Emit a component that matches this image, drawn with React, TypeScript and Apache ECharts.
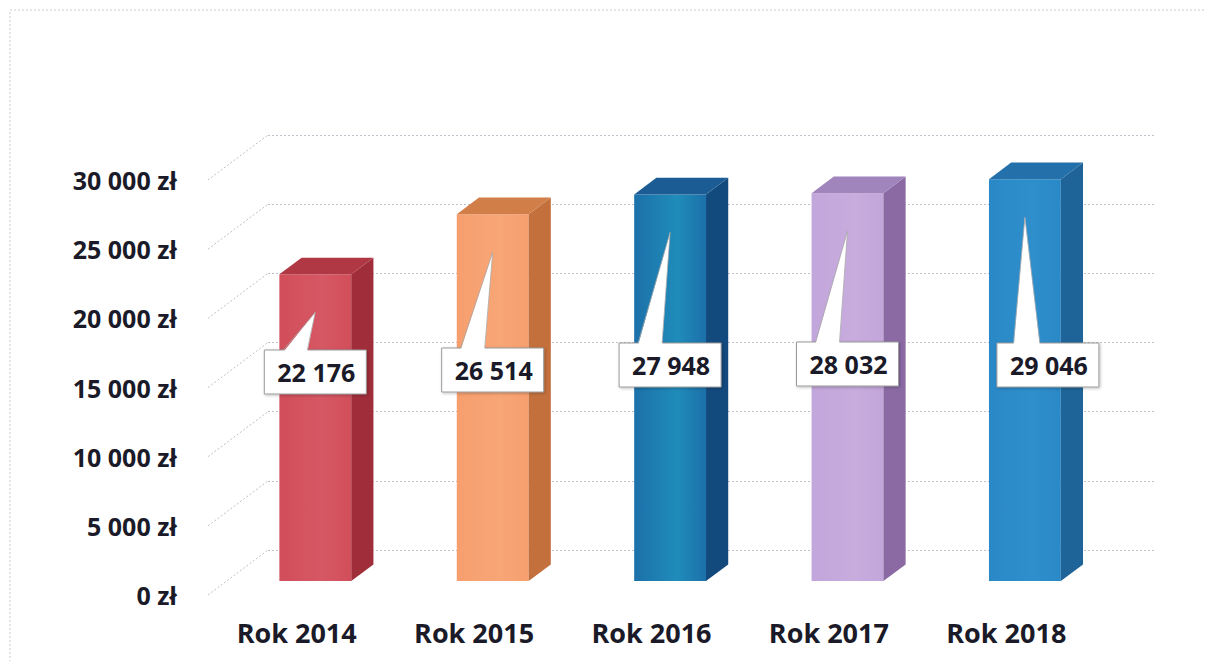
import React, { useEffect, useRef } from "react";
import * as echarts from "echarts";

const categories = ["Rok 2014", "Rok 2015", "Rok 2016", "Rok 2017", "Rok 2018"];
const values = [22176, 26514, 27948, 28032, 29046];
const yTicks = [0, 5000, 10000, 15000, 20000, 25000, 30000];
const Y_MIN = 0;
const Y_MAX = 30000;
const Y_INTERVAL = 5000;

// styling / layout constants
const FRONT_COLORS = ["#D14E5A", "#F69E6E", "#1C70A9", "#C2A5DA", "#2A88C7"];
const FRONT_MID = ["#D65864", "#F8A676", "#1F8CBA", "#C8ACDE", "#2E8FCC"];
const SIDE_COLORS = ["#A02E3A", "#C4703D", "#134A7E", "#8B6AA4", "#1E6498"];
const TOP_COLORS = ["#B03845", "#D27E48", "#1A5C93", "#A084BC", "#2470AB"];
const CALLOUT_SHIFT = [0, 0, 0, 0, 23];
const CALLOUT_CY = [372, 370, 365, 364, 365];

const DX = 60; // depth offset of the 3D floor/walls
const DY = -45;
const F1 = 0.31; // bar front depth fraction
const F2 = 0.68; // bar back depth fraction
const BAR_RATIO = 0.405;
const TEXT = "#1A1A28";
const FONT = "'Open Sans', 'Noto Sans', sans-serif";

const fmt = (v: number) => String(v).replace(/\B(?=(\d{3})+(?!\d))/g, " ");

export default function App() {
  const ref = useRef<HTMLDivElement>(null);
  useEffect(() => {
    if (!ref.current) return;
    const chart = echarts.init(ref.current, undefined, { renderer: "svg" });
    const option: any = {
      animation: false,
      backgroundColor: "#ffffff",
      graphic: [
        {
          type: "rect",
          shape: { x: 10, y: 10, width: 1260, height: 720 },
          style: { fill: "none", stroke: "#cccccc", lineWidth: 1, lineDash: [2, 2] },
          silent: true,
        },
      ],
      grid: [
        { left: 208, right: 111, top: 180, bottom: 66 },
        { left: 208 + DX, right: 111 - DX, top: 180 + DY, bottom: 66 - DY },
      ],
      xAxis: [
        {
          type: "category",
          gridIndex: 0,
          data: categories,
          axisLine: { show: false },
          axisTick: { show: false },
          axisLabel: {
            margin: 24,
            fontSize: 27,
            fontWeight: "bold",
            fontFamily: FONT,
            color: TEXT,
          },
        },
        {
          type: "category",
          gridIndex: 1,
          data: categories,
          show: false,
        },
      ],
      yAxis: [
        {
          type: "value",
          gridIndex: 0,
          min: Y_MIN,
          max: Y_MAX,
          interval: Y_INTERVAL,
          axisLine: { show: false },
          axisTick: { show: false },
          splitLine: { show: false },
          axisLabel: {
            margin: 31,
            fontSize: 25,
            fontWeight: "bold",
            fontFamily: FONT,
            color: TEXT,
            formatter: (v: number) => fmt(v) + " zł",
          },
        },
        {
          type: "value",
          gridIndex: 1,
          min: Y_MIN,
          max: Y_MAX,
          interval: Y_INTERVAL,
          axisLine: { show: false },
          axisTick: { show: false },
          axisLabel: { show: false },
          splitLine: {
            show: true,
            lineStyle: { color: "#c0c0cc", width: 1, type: [2, 2] },
          },
        },
      ],
      series: [
        {
          type: "custom",
          name: "diagonals",
          xAxisIndex: 0,
          yAxisIndex: 0,
          silent: true,
          data: yTicks.map((t) => [0, t]),
          encode: { x: 0, y: 1 },
          renderItem: (params: any, api: any) => {
            const p = api.coord([0, api.value(1)]);
            const bw = api.size([1, 0])[0];
            const x0 = p[0] - bw / 2;
            return {
              type: "line",
              shape: { x1: x0, y1: p[1], x2: x0 + DX, y2: p[1] + DY },
              style: { stroke: "#c0c0cc", lineWidth: 1, lineDash: [2, 2] },
            };
          },
        },
        {
          type: "custom",
          name: "bars",
          xAxisIndex: 0,
          yAxisIndex: 0,
          data: values.map((v, i) => [i, v]),
          encode: { x: 0, y: 1 },
          renderItem: (params: any, api: any) => {
            const i = api.value(0);
            const v = api.value(1);
            const p0 = api.coord([i, 0]);
            const p1 = api.coord([i, v]);
            const bw = api.size([1, 0])[0] * BAR_RATIO;
            const cx = p0[0] + DX * F1;
            const xl = cx - bw / 2;
            const xr = cx + bw / 2;
            const top = p1[1] + DY * F1;
            const bottom = p0[1] + DY * F1;
            const ddx = DX * (F2 - F1);
            const ddy = DY * (F2 - F1);
            const idx = params.dataIndex;
            const front = new echarts.graphic.LinearGradient(0, 0, 1, 0, [
              { offset: 0, color: FRONT_COLORS[idx] },
              { offset: 0.6, color: FRONT_MID[idx] },
              { offset: 1, color: FRONT_COLORS[idx] },
            ]);

            const tipX = cx;
            const tipY = top + 38;
            const boxW = 102;
            const boxH = 44;
            const bcx = cx + CALLOUT_SHIFT[idx];
            const bcy = CALLOUT_CY[idx];
            const boxTop = bcy - boxH / 2;
            const baseL = tipX - 32 + CALLOUT_SHIFT[idx] * 0.9;
            const baseR = tipX - 8 + CALLOUT_SHIFT[idx];

            return {
              type: "group",
              children: [
                {
                  type: "rect",
                  shape: { x: xl, y: top, width: bw, height: bottom - top },
                  style: { fill: front },
                },
                {
                  type: "polygon",
                  shape: {
                    points: [
                      [xr, top],
                      [xr + ddx, top + ddy],
                      [xr + ddx, bottom + ddy],
                      [xr, bottom],
                    ],
                  },
                  style: { fill: SIDE_COLORS[idx] },
                },
                {
                  type: "polygon",
                  shape: {
                    points: [
                      [xl, top],
                      [xr, top],
                      [xr + ddx, top + ddy],
                      [xl + ddx, top + ddy],
                    ],
                  },
                  style: { fill: TOP_COLORS[idx] },
                },
                {
                  type: "rect",
                  shape: { x: bcx - boxW / 2, y: boxTop, width: boxW, height: boxH },
                  style: {
                    fill: "#ffffff",
                    stroke: "#9a9a9a",
                    lineWidth: 1,
                    shadowBlur: 3,
                    shadowColor: "rgba(0,0,0,0.25)",
                    shadowOffsetX: 1,
                    shadowOffsetY: 1,
                  },
                },
                {
                  type: "polygon",
                  shape: {
                    points: [
                      [baseL, boxTop + 2],
                      [tipX, tipY],
                      [baseR, boxTop + 2],
                    ],
                  },
                  style: { fill: "#ffffff" },
                },
                {
                  type: "polyline",
                  shape: {
                    points: [
                      [baseL, boxTop],
                      [tipX, tipY],
                      [baseR, boxTop],
                    ],
                  },
                  style: { fill: "none", stroke: "#a8a8a8", lineWidth: 0.8 },
                },
                {
                  type: "text",
                  style: {
                    x: bcx + 1,
                    y: bcy,
                    text: fmt(v),
                    align: "center",
                    verticalAlign: "middle",
                    fontSize: 25,
                    fontWeight: "bold",
                    fontFamily: FONT,
                    fill: TEXT,
                  },
                },
              ],
            };
          },
        },
      ],
    };
    chart.setOption(option);
    return () => chart.dispose();
  }, []);
  return (
    <div
      ref={ref}
      style={{ position: "fixed", left: 0, top: 0, width: 1206, height: 661, background: "#fff" }}
    />
  );
}
